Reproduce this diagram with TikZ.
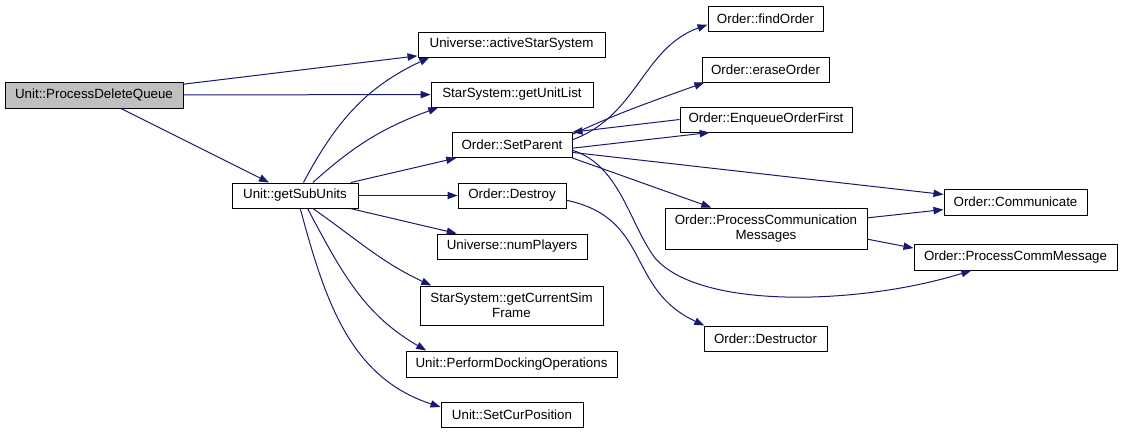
\documentclass[tikz,border=0pt]{standalone}
\usepackage{fontspec}
\setmainfont{Liberation Sans}
\usepackage{tikz}
\usepackage{xcolor}
\usetikzlibrary{arrows.meta}

\definecolor{edgeblue}{HTML}{191970}

\begin{document}
\begin{tikzpicture}[x=0.75pt, y=-0.75pt,
    fn/.style={draw, rectangle, line width=0.75pt, inner sep=0pt, minimum height=18.75pt, font=\fontsize{10}{11.5}\selectfont, align=center},
    call/.style={draw=edgeblue, line width=0.75pt, -{Triangle[length=7.5pt, width=5.5pt]}, edgeblue}]

    % Fix the page size
    \useasboundingbox (0,0) rectangle (1123,433);

    % The caller
    \node[fn, fill=black!25, minimum width=133.5pt, minimum height=19.5pt] (pdq) at (94,95) {Unit::ProcessDeleteQueue};

    % Second column
    \node[fn, minimum width=94.5pt] (gsu) at (295,195.5) {Unit::getSubUnits};

    % Third column
    \node[fn, minimum width=140.25pt] (ass) at (511.5,44.5) {Universe::activeStarSystem};
    \node[fn, minimum width=121.5pt] (gul) at (512,94.5) {StarSystem::getUnitList};
    \node[fn, minimum width=90pt] (sp) at (512,145) {Order::SetParent};
    \node[fn, minimum width=81pt] (des) at (512,195.5) {Order::Destroy};
    \node[fn, minimum width=112.5pt] (np) at (512,246.5) {Universe::numPlayers};
    \node[fn, minimum width=137.25pt, minimum height=29.25pt] (gcsf) at (511.5,305.5) {StarSystem::getCurrentSim\\Frame};
    \node[fn, minimum width=158.25pt, minimum height=19.5pt] (pdo) at (511.5,364) {Unit::PerformDockingOperations};
    \node[fn, minimum width=106.5pt] (scp) at (512,414.5) {Unit::SetCurPosition};

    % Fourth column
    \node[fn, minimum width=86.25pt] (fo) at (765.5,18.5) {Order::findOrder};
    \node[fn, minimum width=95.25pt] (eo) at (765.5,69.5) {Order::eraseOrder};
    \node[fn, minimum width=129pt] (eof) at (766,119.5) {Order::EnqueueOrderFirst};
    \node[fn, minimum width=151.5pt, minimum height=30.75pt] (pcm) at (766,228.5) {Order::ProcessCommunication\\Messages};
    \node[fn, minimum width=92.25pt] (dtor) at (765.5,338.5) {Order::Destructor};

    % Fifth column
    \node[fn, minimum width=107.25pt, minimum height=19.5pt] (com) at (1015.5,202) {Order::Communicate};
    \node[fn, minimum width=152.25pt, minimum height=19.5pt] (pcmm) at (1015.5,257) {Order::ProcessCommMessage};

    % Calls from Unit::ProcessDeleteQueue
    \draw[call] (pdq) -- (ass);
    \draw[call] (pdq) -- (gul);
    \draw[call] (pdq) -- (gsu);

    % Calls from Unit::getSubUnits
    \draw[call] (gsu.57) to[out=62, in=205] (ass.189);
    \draw[call] (gsu.36) to[out=42, in=200] (gul.190);
    \draw[call] (gsu) -- (sp);
    \draw[call] (gsu) -- (des);
    \draw[call] (gsu) -- (np);
    \draw[call] (gsu.-36) to[out=-35, in=155] (gcsf.166);
    \draw[call] (gsu.-46) to[out=-62, in=150] (pdo.171);
    \draw[call] (gsu.-68) to[out=-75, in=162] (scp.174);

    % Calls from Order::SetParent
    \draw[call] (sp.5) to[out=20, in=200] (fo.186);
    \draw[call] (sp.10) to[out=25, in=200] (eo.192);
    \draw[call] (eof.west) -- (sp.12);
    \draw[call] (sp.-3) -- (eof.193);
    \draw[call] (sp.-7) -- (com.174);
    \draw[call] (sp.south east) -- (pcm.159);
    \draw[call] (sp.-5) .. controls (620,165) and (630,225) .. (655,258)
        .. controls (700,310) and (860,305) .. (pcmm.197);

    % Calls from Order::Destroy and Order::ProcessCommunicationMessages
    \draw[call] (des.-5) to[out=-12, in=155, looseness=1.2] (dtor.168);
    \draw[call] (pcm.6) -- (com.186);
    \draw[call] (pcm.-6) -- (pcmm.175);

\end{tikzpicture}
\end{document}
